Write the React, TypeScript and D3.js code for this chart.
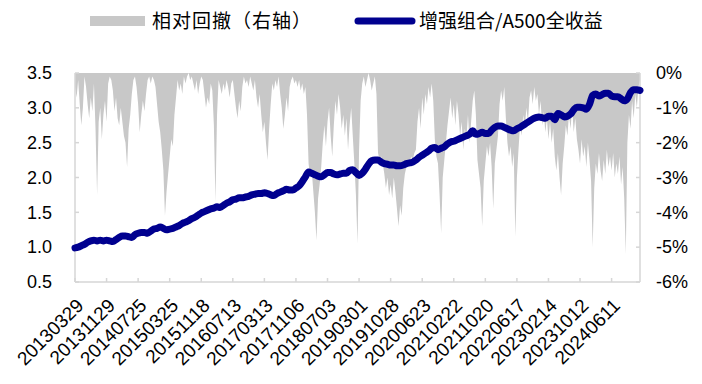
import { useMemo } from 'react';
import * as d3 from 'd3';

// x-axis category labels (one every tick interval)
const DATE_LABELS = [
  '20130329', '20131129', '20140725', '20150325', '20151118', '20160713',
  '20170313', '20171106', '20180703', '20190301', '20191028', '20200623',
  '20210222', '20211020', '20220617', '20230214', '20231012', '20240611',
];

const LEFT_TICKS = [0.5, 1.0, 1.5, 2.0, 2.5, 3.0, 3.5];
const RIGHT_TICKS = [0, -1, -2, -3, -4, -5, -6];

// 增强组合/A500全收益 — sampled every 2 steps
const RETURN_VALUES = [
  0.99, 1.00, 1.02, 1.04, 1.07, 1.09, 1.10, 1.09, 1.10, 1.09,
  1.10, 1.09, 1.08, 1.11, 1.14, 1.16, 1.16, 1.15, 1.14, 1.18,
  1.20, 1.21, 1.21, 1.20, 1.23, 1.26, 1.27, 1.29, 1.27, 1.25,
  1.26, 1.27, 1.29, 1.31, 1.34, 1.36, 1.38, 1.41, 1.43, 1.46,
  1.49, 1.51, 1.53, 1.55, 1.56, 1.58, 1.57, 1.60, 1.63, 1.65,
  1.68, 1.69, 1.71, 1.71, 1.72, 1.73, 1.75, 1.76, 1.77, 1.77,
  1.78, 1.77, 1.75, 1.74, 1.77, 1.79, 1.81, 1.83, 1.82, 1.82,
  1.85, 1.88, 1.94, 2.01, 2.08, 2.06, 2.04, 2.02, 2.01, 2.04,
  2.07, 2.07, 2.05, 2.04, 2.05, 2.06, 2.06, 2.10, 2.11, 2.07,
  2.03, 2.06, 2.12, 2.19, 2.24, 2.25, 2.25, 2.22, 2.20, 2.19,
  2.18, 2.18, 2.17, 2.17, 2.18, 2.20, 2.21, 2.22, 2.25, 2.29,
  2.32, 2.35, 2.38, 2.42, 2.43, 2.40, 2.42, 2.44, 2.48, 2.51,
  2.52, 2.54, 2.56, 2.58, 2.60, 2.62, 2.67, 2.62, 2.63, 2.65,
  2.63, 2.63, 2.68, 2.72, 2.74, 2.74, 2.72, 2.70, 2.68, 2.67,
  2.70, 2.72, 2.75, 2.78, 2.81, 2.84, 2.86, 2.87, 2.86, 2.85,
  2.88, 2.88, 2.83, 2.92, 2.90, 2.87, 2.88, 2.91, 2.97, 3.01,
  3.01, 3.00, 2.98, 3.05, 3.18, 3.20, 3.17, 3.19, 3.21, 3.21,
  3.17, 3.16, 3.16, 3.13, 3.10, 3.13, 3.22, 3.26, 3.26, 3.25,
];

// 相对回撤（右轴）, in %
const DRAWDOWN_VALUES = [
  -0.4, -0.7, -0.2, -0.9, -1.5, -1.0, -0.1, -0.4, -0.9, -1.3,
  -0.7, -1.1, -0.3, -1.6, -3.5, -1.4, -1.0, -1.9, -1.2, -0.8,
  -1.4, -0.3, -0.1, -0.2, -0.5, -1.1, -0.7, -1.3, -1.5, -1.0,
  -1.4, -1.8, -2.0, -2.7, -1.6, -1.2, -0.6, -0.2, -0.1, -0.4,
  -0.9, -1.7, -1.2, -0.8, -1.1, -0.6, -0.2, -0.1, -0.3, -0.1,
  -0.2, -0.4, -0.9, -1.4, -1.7, -2.2, -2.8, -4.1, -3.4, -2.9,
  -2.4, -1.9, -2.1, -1.2, -0.7, -0.2, -0.5, -0.3, -0.6, -0.1,
  -0.3, -0.1, 0, -0.2, -0.1, -0.3, -0.5, -0.2, -0.6, -0.3,
  -0.1, -0.2, -0.6, -1.0, -0.7, -0.9, -0.3, -0.5, -1.5, -3.7,
  -1.2, -0.2, -0.4, -0.6, -0.3, -0.5, -0.2, -0.4, -0.7, -0.3,
  -0.2, -0.6, -1.0, -1.3, -0.8, -1.1, -0.4, -0.1, -0.3, -0.2,
  -0.4, -0.1, -0.3, -0.5, -0.2, -0.7, -1.0, -0.6, -1.2, -1.7,
  -1.4, -2.0, -2.5, -1.6, -0.9, -0.3, -0.5, -0.2, -0.4, -0.1,
  -0.6, -1.0, -1.6, -1.2, -0.7, -1.1, -0.4, -0.2, -0.1, -0.3,
  -0.2, -0.4, -0.2, -0.5, -0.3, -0.6, -0.4, -1.2, -2.6, -3.0,
  -2.8, -3.4, -4.0, -4.8, -3.6, -3.2, -2.7, -2.0, -1.5, -2.1,
  -1.4, -1.0, -1.8, -2.4, -1.5, -0.8, -1.2, -0.6, -1.0, -1.6,
  -1.2, -1.8, -1.3, -2.2, -1.5, -1.0, -1.8, -2.6, -3.5, -4.9,
  -2.2, -0.8, -0.3, -0.1, -0.4, -0.2, 0, -0.2, -0.5, -0.3,
  -0.1, -0.6, -2.3, -2.5, -2.4, -2.6, -2.9, -3.3, -3.0, -3.5,
  -3.2, -3.6, -3.0, -3.4, -3.9, -4.4, -3.8, -4.1, -3.3, -2.9,
  -2.7, -2.5, -2.6, -2.4, -2.5, -2.3, -2.2, -1.4, -1.0, -1.6,
  -0.7, -1.2, -0.6, -0.9, -0.4, -0.7, -0.3, -0.8, -1.9, -2.4,
  -2.6, -3.5, -4.6, -3.0, -2.5, -2.0, -1.5, -1.1, -0.7, -1.3,
  -0.9, -1.5, -0.8, -1.2, -1.8, -1.4, -2.2, -1.6, -1.9, -1.2,
  -2.0, -1.4, -0.8, -0.5, -1.2, -2.5, -2.9, -3.3, -4.4, -3.1,
  -2.6, -2.1, -2.4, -2.0, -2.7, -3.9, -2.6, -2.2, -1.8, -0.9,
  -0.5, -0.8, -0.4, -1.3, -2.0, -2.4, -2.1, -2.7, -2.3, -4.7,
  -3.0, -2.2, -1.5, -1.8, -1.2, -1.6, -1.0, -1.4, -0.7, -0.5,
  -0.9, -0.4, -0.8, -0.6, -1.2, -0.8, -1.5, -1.1, -1.7, -1.3,
  -1.9, -1.4, -2.0, -1.6, -2.4, -2.8, -2.3, -3.0, -3.5, -2.6,
  -2.1, -1.5, -1.8, -1.2, -1.6, -1.0, -1.7, -1.3, -1.9, -2.2,
  -2.6, -1.9, -2.4, -2.1, -2.7, -2.0, -2.5, -3.1, -5.0, -3.3,
  -2.6, -2.9, -2.3, -2.8, -3.1, -2.5, -2.9, -2.2, -2.7, -2.4,
  -2.8, -2.3, -3.0, -2.6, -2.9, -2.4, -3.2, -2.7, -3.6, -5.2,
  -2.0, -1.2, -1.6, -0.8, -1.3, -0.6, -1.0, -0.4, -0.2,
];

const WIDTH = 702;
const HEIGHT = 384;
const margin = { top: 73, right: 62, bottom: 102, left: 75 };
const TICK_STEP = 20;

const AXIS_COLOR = '#d6d6d6';
const AREA_COLOR = '#c8c8c8';
const LINE_COLOR = '#00008f';
const FONT = '"Liberation Sans", Arial, sans-serif';
const CJK_FONT = '"Noto Sans CJK SC", "Liberation Sans", sans-serif';

export default function App() {
  const x0 = margin.left;
  const x1 = WIDTH - margin.right;
  const y0 = margin.top;
  const y1 = HEIGHT - margin.bottom;

  const x = useMemo(
    () => d3.scaleLinear().domain([0, DRAWDOWN_VALUES.length - 1]).range([x0, x1]),
    [x0, x1]
  );
  const yLeft = useMemo(() => d3.scaleLinear().domain([0.5, 3.5]).range([y1, y0]), [y0, y1]);
  const yRight = useMemo(() => d3.scaleLinear().domain([-6, 0]).range([y1, y0]), [y0, y1]);

  const areaPath = d3
    .area<number>()
    .x((_, i) => x(i))
    .y0(yRight(0))
    .y1((d) => yRight(d))(DRAWDOWN_VALUES) || '';

  const linePath = d3
    .line<number>()
    .x((_, i) => x(i * 2))
    .y((d) => yLeft(d))
    .curve(d3.curveMonotoneX)(RETURN_VALUES) || '';

  const tickIdx = d3.range(0, DRAWDOWN_VALUES.length, TICK_STEP);

  return (
    <svg
      width={WIDTH}
      height={HEIGHT}
      style={{ position: 'absolute', left: 0, top: 0, background: '#fff' }}
    >
      {/* legend */}
      <rect x={90} y={16} width={55} height={10} fill={AREA_COLOR} />
      <text
        x={152}
        y={21}
        dy="0.36em"
        fontFamily={CJK_FONT}
        fontSize={19}
        letterSpacing={1}
        fill="#000"
      >
        相对回撤（右轴）
      </text>
      <line
        x1={358}
        x2={412}
        y1={21}
        y2={21}
        stroke={LINE_COLOR}
        strokeWidth={7}
        strokeLinecap="round"
      />
      <text x={419} y={21} dy="0.36em" fontFamily={CJK_FONT} fontSize={19} fill="#000">
        增强组合/A500全收益
      </text>

      {/* drawdown area */}
      <path d={areaPath} fill={AREA_COLOR} />

      {/* axes */}
      <g stroke={AXIS_COLOR} strokeWidth={1.5} fill="none">
        <line x1={x0} x2={x0} y1={y0} y2={y1} />
        <line x1={x1} x2={x1} y1={y0} y2={y1} />
        <line x1={x0} x2={x1} y1={y1} y2={y1} />
        {LEFT_TICKS.map((t) => (
          <line key={`l${t}`} x1={x0} x2={x0 + 4} y1={yLeft(t)} y2={yLeft(t)} />
        ))}
        {RIGHT_TICKS.map((t) => (
          <line key={`r${t}`} x1={x1 - 4} x2={x1} y1={yRight(t)} y2={yRight(t)} />
        ))}
        {tickIdx.map((i) => (
          <line key={`b${i}`} x1={x(i)} x2={x(i)} y1={y1} y2={y1 - 4} />
        ))}
      </g>

      {/* return line */}
      <path
        d={linePath}
        fill="none"
        stroke={LINE_COLOR}
        strokeWidth={7}
        strokeLinejoin="round"
        strokeLinecap="round"
      />

      {/* left axis labels */}
      {LEFT_TICKS.map((t) => (
        <text
          key={`lt${t}`}
          x={52}
          y={yLeft(t)}
          dy="0.35em"
          textAnchor="end"
          fontFamily={FONT}
          fontSize={18}
          fill="#000"
        >
          {t.toFixed(1)}
        </text>
      ))}

      {/* right axis labels */}
      {RIGHT_TICKS.map((t) => (
        <text
          key={`rt${t}`}
          x={656}
          y={yRight(t)}
          dy="0.35em"
          textAnchor="start"
          fontFamily={FONT}
          fontSize={18}
          fill="#000"
        >
          {`${t}%`}
        </text>
      ))}

      {/* x axis labels */}
      {DATE_LABELS.map((lab, k) => (
        <text
          key={lab}
          transform={`translate(${x(k * TICK_STEP) + 5},${y1 + 20}) rotate(-45)`}
          dy="0.35em"
          textAnchor="end"
          fontFamily={FONT}
          fontSize={19}
          fill="#000"
        >
          {lab}
        </text>
      ))}
    </svg>
  );
}
